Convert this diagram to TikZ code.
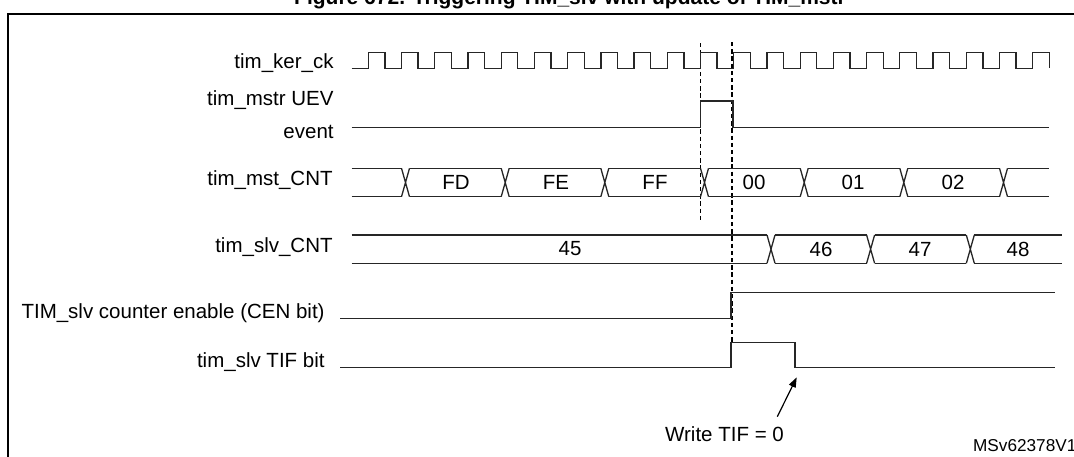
\documentclass[tikz,border=0pt]{standalone}
\usepackage{fontspec}
\setmainfont{Liberation Sans}
\usetikzlibrary{arrows.meta}

\begin{document}
\begin{tikzpicture}[
    x=0.5pt, y=-0.5pt,
    font=\fontsize{10.25}{16.5}\selectfont,
    sig/.style={line width=0.65pt, black!85},
    guide/.style={line width=0.55pt, dash pattern=on 2.2pt off 1.4pt},
    lbl/.style={inner sep=0pt, anchor=base east},
    val/.style={inner sep=0pt},
    arrow/.style={-{Triangle[length=5pt, width=3.6pt]}, line width=0.6pt}
]
    \useasboundingbox (0,0) rectangle (1074,456);
    \clip (0,0) rectangle (1074,456);

    \node[font=\bfseries\fontsize{10.5}{12}\selectfont, anchor=base, inner sep=0pt] (title) at (570,4) {Figure 672. Triggering TIM\_slv with update of TIM\_mstr};
    \draw[line width=1.25pt] (8,470) -- (8,14) -- (1090,14);

    \node[lbl] (kerck) at (334,68) {tim\_ker\_ck};
    \node[inner sep=0pt, align=right, anchor=east] (uev) at (334,114.5) {tim\_mstr UEV\\event};
    \node[lbl] (mstcnt) at (333,185) {tim\_mst\_CNT};
    \node[lbl] (slvcnt) at (333,252) {tim\_slv\_CNT};
    \node[lbl] (cen) at (325,318) {TIM\_slv counter enable (CEN bit)};
    \node[lbl] (tif) at (325,367) {tim\_slv TIF bit};

    \draw[guide] (700.5,43) -- (700.5,222);
    \draw[guide] (732,42) -- (732,342);

    \draw[sig] (351.7,68.3)
        \foreach \k in {0,...,20} {
            -- ({368.3+33.22*\k},68.3) -- ({368.3+33.22*\k},52.3)
            -- ({384.9+33.22*\k},52.3) -- ({384.9+33.22*\k},68.3)
        };

    \draw[sig] (351.7,127.3) -- (700.5,127.3) -- (700.5,101) -- (733,101) -- (733,127.3) -- (1049.3,127.3);

    \foreach \a/\b in {351.7/401.5, 409.5/501.2, 509.2/600.8, 608.8/700.5, 708.5/800.2, 808.2/899.8, 907.8/999.5, 1007.5/1049.3}
        \draw[sig] (\a,168.3) -- (\b,168.3) (\a,196.7) -- (\b,196.7);
    \foreach \t in {401.5, 501.2, 600.8, 700.5, 800.2, 899.8, 999.5}
        \draw[sig] (\t,168.3) -- (\t+8,196.7) (\t,196.7) -- (\t+8,168.3);
    \node[val] (fd) at (456,182.5) {FD};
    \node[val] (fe) at (556,182.5) {FE};
    \node[val] (ff) at (655,182.5) {FF};
    \node[val] (m00) at (754,182.5) {00};
    \node[val] (m01) at (853,182.5) {01};
    \node[val] (m02) at (953,182.5) {02};

    \foreach \a/\b in {351.7/767.0, 775/866.6, 874.6/966.3, 974.3/1062}
        \draw[sig] (\a,235) -- (\b,235) (\a,263.3) -- (\b,263.3);
    \foreach \t in {767.0, 866.6, 966.3}
        \draw[sig] (\t,235) -- (\t+8,263.3) (\t,263.3) -- (\t+8,235);
    \node[val] (s45) at (570,249) {45};
    \node[val] (s46) at (821,249) {46};
    \node[val] (s47) at (920,249) {47};
    \node[val] (s48) at (1018,249) {48};

    \draw[sig] (340,318.3) -- (731,318.3) -- (731,292.7) -- (1055,292.7);
    \draw[sig] (340,367.7) -- (731,367.7) -- (731,342.3) -- (795,342.3) -- (795,367.7) -- (1055,367.7);

    \node[val, anchor=base] (write) at (724.5,441.7) {Write TIF = 0};
    \coordinate (wtail) at (777.3,416.7);
    \coordinate (whead) at (796.7,377.3);
    \draw[arrow] (wtail) -- (whead);

    \node[inner sep=0pt, anchor=base west, font=\fontsize{8.6}{10}\selectfont] (ref) at (972.7,451.5) {MSv62378V1};
\end{tikzpicture}
\end{document}
